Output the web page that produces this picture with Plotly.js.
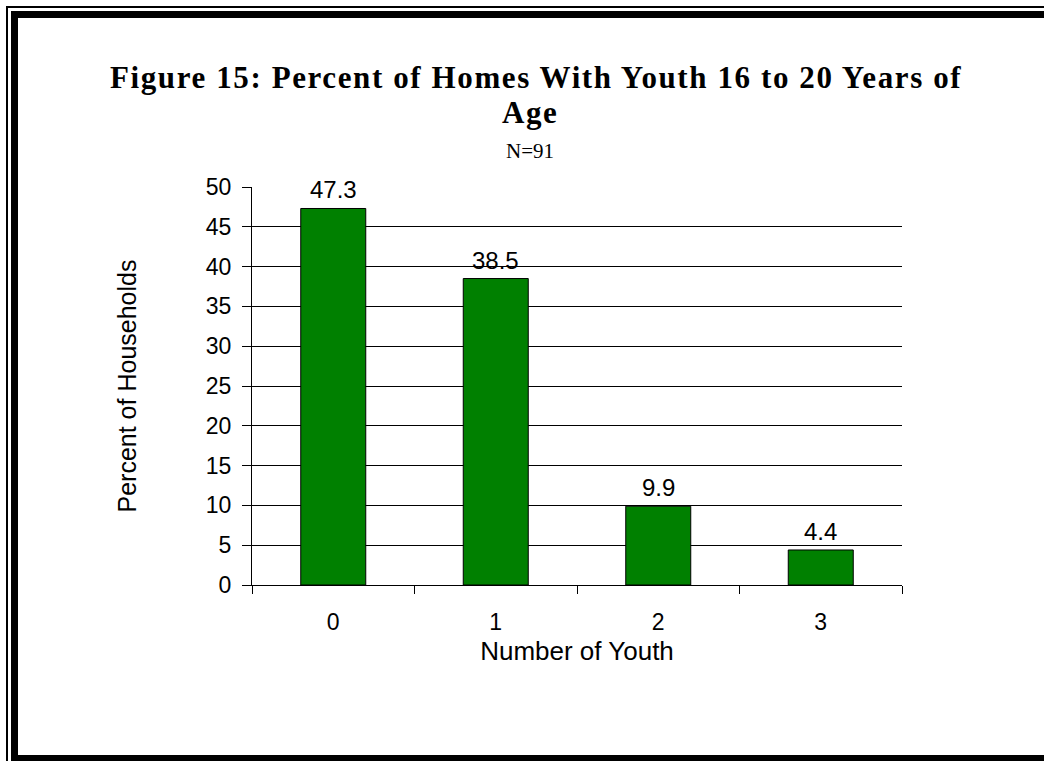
<!DOCTYPE html>
<html>
<head>
<meta charset="utf-8">
<script src="https://cdn.plot.ly/plotly-3.0.1.min.js"></script>
<style>
  html, body { margin: 0; padding: 0; background: #fff; }
  #wrap { position: relative; width: 1044px; height: 761px; overflow: hidden; }
  #chart { position: absolute; left: 0; top: 0; width: 1044px; height: 761px; }
  .fr { position: absolute; background: #000; pointer-events: none; }
</style>
</head>
<body>
<div id="wrap">
  <div id="chart"></div>
  <div class="fr" style="left:6px; top:6px; width:1040px; height:2px;"></div>
  <div class="fr" style="left:6px; top:6px; width:2px; height:760px;"></div>
  <div class="fr" style="left:11px; top:11px; width:1040px; height:7px;"></div>
  <div class="fr" style="left:11px; top:11px; width:7px; height:760px;"></div>
  <div class="fr" style="left:11px; top:755px; width:1040px; height:7px;"></div>
</div>
<script>
const categories = ["0", "1", "2", "3"];
const values = [47.3, 38.5, 9.9, 4.4];
const valueLabels = ["47.3", "38.5", "9.9", "4.4"];
const yTicks = [0, 5, 10, 15, 20, 25, 30, 35, 40, 45, 50];
const titleLines = ["Figure 15: Percent of Homes With Youth 16 to 20 Years of", "Age"];
const subtitle = "N=91";

const sans = "Arial, 'Liberation Sans', sans-serif";
const serif = "'Times New Roman', 'Liberation Serif', serif";

const M = { l: 252, r: 142, t: 187, b: 176 };
const W = 1044, H = 761;
const plotW = W - M.l - M.r, plotH = H - M.t - M.b;
const px = x => (x - M.l) / plotW;
const py = y => (H - M.b - y) / plotH;

const trace = {
  type: "bar",
  x: categories,
  y: values,
  width: 0.4,
  marker: { color: "#008000", line: { color: "#000", width: 1 } },
  hoverinfo: "skip"
};

const annotations = categories.map((c, i) => ({
  x: c, y: values[i], xref: "x", yref: "y",
  text: valueLabels[i], showarrow: false,
  yanchor: "bottom", yshift: 3,
  font: { family: sans, size: 24, color: "#000" }
}));
annotations.push({
  x: px(536), y: py(77), xref: "paper", yref: "paper",
  text: "<b><span style='letter-spacing:1.6px'>" + titleLines[0] + "</span></b>", showarrow: false,
  xanchor: "center", yanchor: "middle",
  font: { family: serif, size: 31, color: "#000" }
});
annotations.push({
  x: px(530), y: py(112), xref: "paper", yref: "paper",
  text: "<b><span style='letter-spacing:1.6px'>" + titleLines[1] + "</span></b>", showarrow: false,
  xanchor: "center", yanchor: "middle",
  font: { family: serif, size: 31, color: "#000" }
});
annotations.push({
  x: px(530), y: py(151), xref: "paper", yref: "paper",
  text: subtitle, showarrow: false,
  xanchor: "center", yanchor: "middle",
  font: { family: serif, size: 21, color: "#000" }
});

const layout = {
  width: W, height: H,
  margin: M,
  paper_bgcolor: "#fff", plot_bgcolor: "#fff",
  showlegend: false,
  xaxis: {
    type: "category",
    tickson: "boundaries",
    ticks: "outside", ticklen: 8, tickcolor: "#000", tickwidth: 1,
    ticklabelstandoff: 16,
    showline: true, linecolor: "#000", linewidth: 1,
    showgrid: false, zeroline: false,
    tickfont: { family: sans, size: 23, color: "#000" },
    title: { text: "Number of Youth", font: { family: sans, size: 26, color: "#000" }, standoff: 8 },
    fixedrange: true
  },
  yaxis: {
    range: [0, 50],
    tickvals: yTicks,
    ticks: "outside", ticklen: 9, tickcolor: "#000", tickwidth: 1,
    ticklabelstandoff: 6,
    showline: true, linecolor: "#000", linewidth: 1,
    showgrid: true, gridcolor: "#000", gridwidth: 1,
    zeroline: false,
    tickfont: { family: sans, size: 23, color: "#000" },
    title: { text: "Percent of Households", font: { family: sans, size: 25, color: "#000" }, standoff: 62 },
    fixedrange: true
  },
  annotations: annotations
};

Plotly.newPlot("chart", [trace], layout, { displayModeBar: false, staticPlot: true });
</script>
</body>
</html>
